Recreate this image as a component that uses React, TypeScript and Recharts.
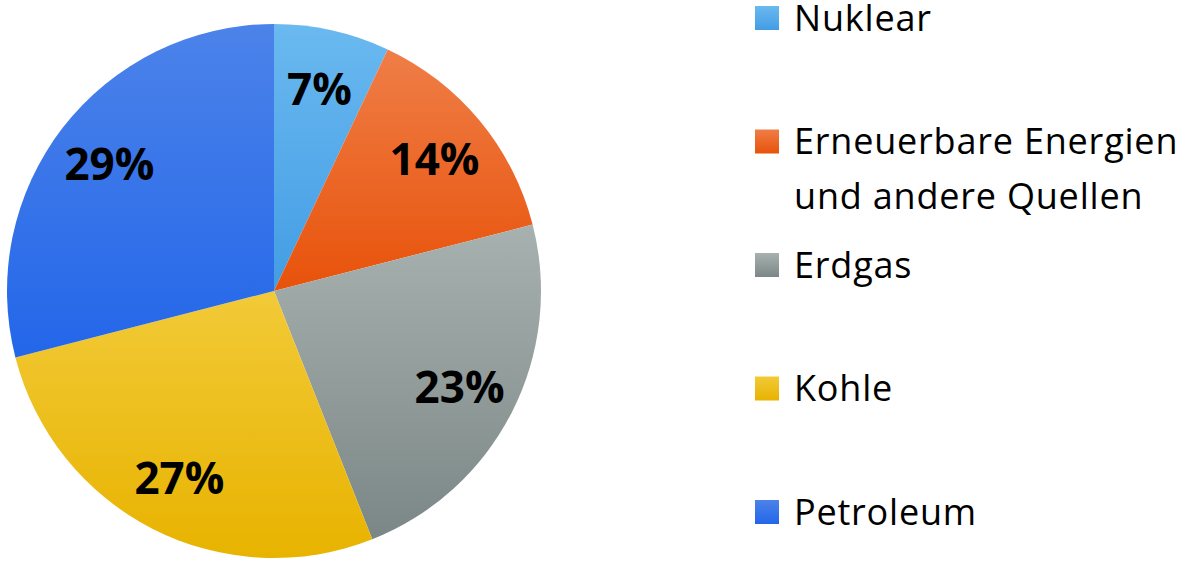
import React from 'react';
import { PieChart, Pie, Cell, Legend } from 'recharts';

const categories = ['Nuklear', 'Erneuerbare Energien und andere Quellen', 'Erdgas', 'Kohle', 'Petroleum'];
const legendLines = [['Nuklear'], ['Erneuerbare Energien', 'und andere Quellen'], ['Erdgas'], ['Kohle'], ['Petroleum']];
const shares = [7, 14, 23, 27, 29];
const topColors = ['#6ab9f0', '#ef7e47', '#a7b2b0', '#f2ca38', '#4c83ea'];
const bottomColors = ['#439de4', '#e8520a', '#7b8686', '#e8b300', '#2366e9'];

const data = categories.map((name, i) => ({ name, value: shares[i] }));

const RAD = Math.PI / 180;
const FONT = '"Open Sans", "Noto Sans", sans-serif';

const renderLabel = (props: any) => {
  const { cx, cy, midAngle, outerRadius, value } = props;
  const r = outerRadius * 0.78;
  const x = cx + r * Math.cos(midAngle * RAD);
  const y = cy - r * Math.sin(midAngle * RAD);
  return (
    <text
      x={x}
      y={y}
      textAnchor="middle"
      dominantBaseline="central"
      fill="#000"
      fontFamily={FONT}
      fontWeight={700}
      fontSize={44}
    >
      {`${value}%`}
    </text>
  );
};

const LegendContent = () => {
  const rowPitch = 123.5;
  const top0 = 6;
  return (
    <svg width={426} height={571} style={{ display: 'block', overflow: 'visible' }}>
      <defs>
        {categories.map((_, i) => (
          <linearGradient key={i} id={`lg${i}`} x1="0" y1="0" x2="0" y2="1">
            <stop offset="0%" stopColor={topColors[i]} />
            <stop offset="100%" stopColor={bottomColors[i]} />
          </linearGradient>
        ))}
      </defs>
      {legendLines.map((lines, i) => {
        const y = top0 + i * rowPitch;
        return (
          <g key={i}>
            <rect x={0} y={y} width={24} height={24} fill={`url(#lg${i})`} />
            {lines.map((t, j) => (
              <text
                key={j}
                x={39}
                y={y + 24.5 + j * 55}
                fontFamily={FONT}
                fontSize={36}
                letterSpacing={0.8}
                fill="#000"
              >
                {t}
              </text>
            ))}
          </g>
        );
      })}
    </svg>
  );
};

export default function App() {
  return (
    <div style={{ position: 'absolute', left: 0, top: 0, width: 1181, height: 571, background: '#fff' }}>
      <PieChart width={1181} height={571} margin={{ top: 0, right: 0, bottom: 0, left: 0 }}>
        <defs>
          {categories.map((_, i) => (
            <linearGradient key={i} id={`pg${i}`} x1="0" y1="0" x2="0" y2="1">
              <stop offset="0%" stopColor={topColors[i]} />
              <stop offset="100%" stopColor={bottomColors[i]} />
            </linearGradient>
          ))}
        </defs>
        <Pie
          data={data}
          dataKey="value"
          nameKey="name"
          cx={274}
          cy={291}
          outerRadius={267}
          startAngle={90}
          endAngle={-270}
          stroke="none"
          label={renderLabel}
          labelLine={false}
          isAnimationActive={false}
        >
          {data.map((_, i) => (
            <Cell key={i} fill={`url(#pg${i})`} />
          ))}
        </Pie>
        <Legend
          layout="vertical"
          align="right"
          verticalAlign="top"
          wrapperStyle={{ position: 'absolute', left: 755, top: 0, width: 426, height: 571 }}
          content={() => <LegendContent />}
        />
      </PieChart>
    </div>
  );
}
